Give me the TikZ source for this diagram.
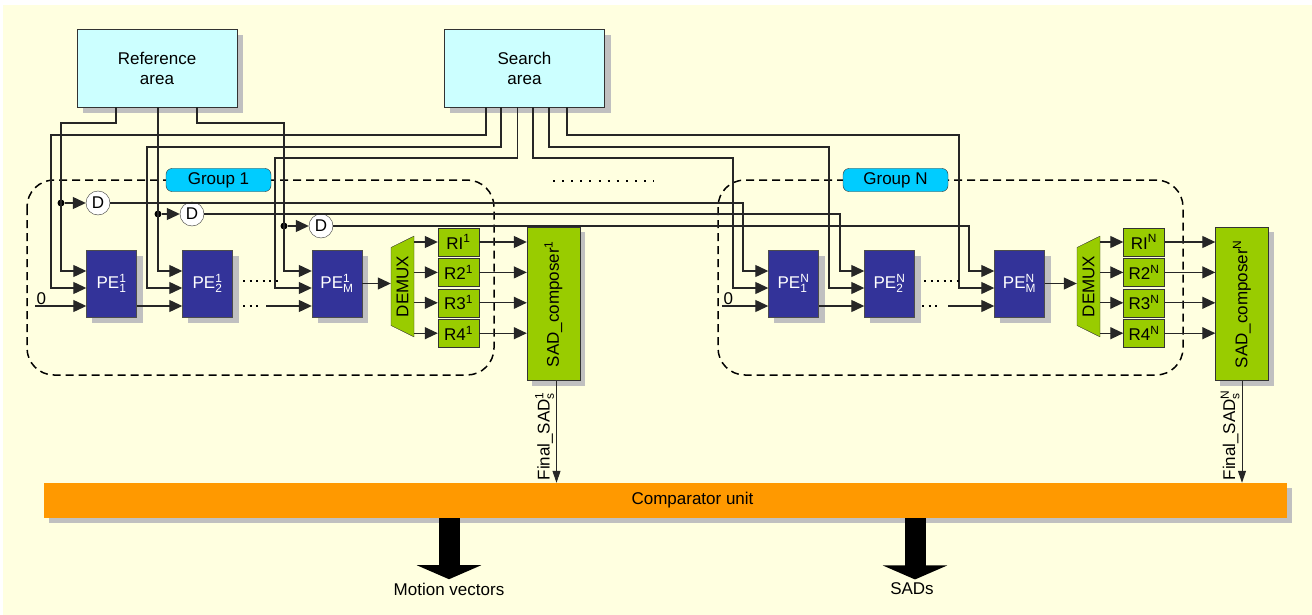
\documentclass[tikz,border=0pt]{standalone}
\usepackage{graphicx}
\usepackage{fontspec}
\setmainfont{Liberation Sans}
\usepackage{tikz}
\usetikzlibrary{shapes.geometric, arrows.meta, positioning}

\definecolor{bgyellow}{RGB}{255,255,224}
\definecolor{areacyan}{RGB}{204,255,255}
\definecolor{peblue}{RGB}{51,51,153}
\definecolor{regreen}{RGB}{153,204,0}
\definecolor{grpcyan}{RGB}{0,204,255}
\definecolor{cmporange}{RGB}{255,153,0}
\definecolor{shadowgray}{RGB}{192,192,192}

\newcommand{\dfont}{\fontsize{17}{20}\selectfont}

\pgfdeclarelayer{behind}
\pgfsetlayers{behind,main}

\begin{document}
\begin{tikzpicture}[
    x=1pt, y=-1pt,
    font=\dfont,
    area/.style={rectangle, draw=black!80, fill=areacyan, minimum width=160pt, minimum height=78pt, align=center},
    pe/.style={rectangle, draw=black!70, fill=peblue, text=white, minimum width=50pt, minimum height=67pt, inner sep=0pt},
    demux/.style={trapezium, trapezium stretches=true, draw=black!80, fill=regreen, rotate=90, minimum width=101pt, minimum height=23pt, trapezium left angle=53, trapezium right angle=53, inner sep=0pt},
    reg/.style={rectangle, draw=black!80, fill=regreen, minimum width=41pt, minimum height=28pt, inner sep=0pt},
    composer/.style={rectangle, draw=black!80, fill=regreen, minimum width=53pt, minimum height=153pt, inner sep=0pt},
    delay/.style={circle, draw=black!80, fill=white, minimum size=24pt, inner sep=0pt},
    joint/.style={circle, fill=black, minimum size=7pt, inner sep=0pt},
    group/.style={draw=black, line width=1.5pt, dash pattern=on 8pt off 5pt, rounded corners=27pt},
    grouplabel/.style={rectangle, rounded corners=6pt, draw=black!80, fill=grpcyan, minimum width=105pt, minimum height=23pt, inner sep=0pt},
    cmpbox/.style={rectangle, fill=cmporange, minimum width=1243pt, minimum height=35pt},
    boxshadow/.style={fill=shadowgray},
    wire/.style={draw=black!85, line width=1.2pt},
    arrow/.style={wire, -{Triangle[length=13pt, width=12pt]}},
    outarrow/.style={wire, line width=1pt, -{Triangle[length=12pt, width=8pt]}},
    bigarrow/.style={line width=21pt, -{Triangle[length=14pt, width=64pt]}},
    dotrow/.style={line width=2pt, dash pattern=on 2pt off #1},
    dotrow/.default=4.5pt
]

% Background
\begin{pgfonlayer}{behind}
\fill[bgyellow] (3,5) rectangle (1312,615);
\end{pgfonlayer}
\useasboundingbox (0,0) rectangle (1312,615);

% Groups
\draw[group] (27,180) rectangle (494,375);
\draw[group] (718,180) rectangle (1183,375);
\node[grouplabel] (grp1) at (218.5,180) {Group 1};
\node[grouplabel] (grpN) at (895.5,180) {Group N};
\draw[dotrow=7.1pt] (553,181) -- (654,181);

% Memories
\node[area] (ref) at (157,68) {Reference\\area};
\node[area] (search) at (524.5,68) {Search\\area};

% Group 1 - PE row
\node[pe] (pe11) at (111.5,283.5) {PE$_{\mathrm{1}}^{\mathrm{1}}$};
\node[pe] (pe21) at (207.5,283.5) {PE$_{\mathrm{2}}^{\mathrm{1}}$};
\node[pe] (pem1) at (337,283.5) {PE$_{\mathrm{M}}^{\mathrm{1}}$};
\node[demux] (dmx1) at (402.5,286.5) {DEMUX};
\node[reg] (r11) at (458.5,242) {RI$^{\mathrm{1}}$};
\node[reg, below=2pt of r11] (r21) {R2$^{\mathrm{1}}$};
\node[reg, below=2pt of r21] (r31) {R3$^{\mathrm{1}}$};
\node[reg, below=2pt of r31] (r41) {R4$^{\mathrm{1}}$};
\node[composer] (sad1) at (553.5,304) {\rotatebox{90}{SAD\_composer$^{\mathrm{1}}$}};

% Group N - PE row
\node[pe] (pe1N) at (793.5,283.5) {PE$_{\mathrm{1}}^{\mathrm{N}}$};
\node[pe] (pe2N) at (889.5,283.5) {PE$_{\mathrm{2}}^{\mathrm{N}}$};
\node[pe] (pemN) at (1019.5,283.5) {PE$_{\mathrm{M}}^{\mathrm{N}}$};
\node[demux] (dmxN) at (1088.5,286.5) {DEMUX};
\node[reg] (r1N) at (1144,242) {RI$^{\mathrm{N}}$};
\node[reg, below=2pt of r1N] (r2N) {R2$^{\mathrm{N}}$};
\node[reg, below=2pt of r2N] (r3N) {R3$^{\mathrm{N}}$};
\node[reg, below=2pt of r3N] (r4N) {R4$^{\mathrm{N}}$};
\node[composer] (sadN) at (1242,304) {\rotatebox{90}{SAD\_composer$^{\mathrm{N}}$}};

% Delays
\node[joint] (j1) at (61,203) {};
\node[joint] (j2) at (158,214) {};
\node[joint] (j3) at (284,226) {};
\node[delay] (d1) at (98,203) {D};
\node[delay] (d2) at (192,214) {D};
\node[delay] (d3) at (321,226) {D};

% Comparator and outputs
\node[cmpbox] (cmp) at (665.5,500.5) {};
\node (cmptxt) at (692.5,500.5) {Comparator unit};
\node (mv) at (449,589) {Motion vectors};
\node (sads) at (912,589) {SADs};

% Shadows
\begin{pgfonlayer}{behind}
\foreach \b in {ref,search,pe11,pe21,pem1,pe1N,pe2N,pemN}
  \fill[boxshadow] ([shift={(6pt,-6pt)}]\b.south west) rectangle ([shift={(6pt,-6pt)}]\b.north east);
\foreach \b in {sad1,sadN,cmp}
  \fill[boxshadow] ([shift={(5pt,-5pt)}]\b.south west) rectangle ([shift={(5pt,-5pt)}]\b.north east);
\end{pgfonlayer}

% Reference area wires
\draw[arrow] ([xshift=-41pt]ref.south) |- (61,123) |- ([yshift=12.5pt]pe11.west);
\draw[arrow] ([xshift=1pt]ref.south) |- ([yshift=12.5pt]pe21.west);
\draw[arrow] ([xshift=40pt]ref.south) |- (284,123) |- ([yshift=12.5pt]pem1.west);
\draw[arrow] (j1) -- (d1);
\draw[arrow] (j2) -- (d2);
\draw[arrow] (j3) -- (d3);
\draw[arrow] (d1.east) -- (743,203) |- ([yshift=12.5pt]pe1N.west);
\draw[arrow] (d2.east) -- (840,214) |- ([yshift=12.5pt]pe2N.west);
\draw[arrow] (d3.east) -- (969,226) |- ([yshift=12.5pt]pemN.west);

% Search area wires
\draw[arrow] ([xshift=-38.5pt]search.south) |- (51,135) |- ([yshift=-4.5pt]pe11.west);
\draw[arrow] ([xshift=-23.5pt]search.south) |- (147,147) |- ([yshift=-4.5pt]pe21.west);
\draw[arrow] ([xshift=-7pt]search.south) |- (275,158) |- ([yshift=-4.5pt]pem1.west);
\draw[arrow] ([xshift=8.5pt]search.south) |- (733,158) |- ([yshift=-4.5pt]pe1N.west);
\draw[arrow] ([xshift=24.5pt]search.south) |- (829,147) |- ([yshift=-4.5pt]pe2N.west);
\draw[arrow] ([xshift=42.5pt]search.south) |- (959,135) |- ([yshift=-4.5pt]pemN.west);

% Group 1 - chain
\coordinate (zero1) at (35,306);
\coordinate (cont1) at (266,306);
\draw[arrow] (zero1) node[above right, inner sep=1pt] (zl1) {0} -- ([yshift=-22.5pt]pe11.west);
\draw[arrow] ([yshift=-22.5pt]pe11.east) -- ([yshift=-22.5pt]pe21.west);
\draw[dotrow] (243,306) -- (258,306);
\draw[dotrow] (243,281) -- (278,281);
\draw[arrow] (cont1) -- ([yshift=-22.5pt]pem1.west);
\draw[arrow] (pem1.east) -- (pem1.east -| dmx1.north);
\draw[arrow] (r11.west -| dmx1.south) -- (r11);
\draw[arrow] (r21.west -| dmx1.south) -- (r21);
\draw[arrow] (r31.west -| dmx1.south) -- (r31);
\draw[arrow] (r41.west -| dmx1.south) -- (r41);
\draw[arrow] (r11.east) -- (r11.east -| sad1.west);
\draw[arrow] (r21.east) -- (r21.east -| sad1.west);
\draw[arrow] (r31.east) -- (r31.east -| sad1.west);
\draw[arrow] (r41.east) -- (r41.east -| sad1.west);

% Group N - chain
\coordinate (zeroN) at (722,306);
\coordinate (contN) at (948,306);
\draw[arrow] (zeroN) node[above right, inner sep=1pt] (zlN) {0} -- ([yshift=-22.5pt]pe1N.west);
\draw[arrow] ([yshift=-22.5pt]pe1N.east) -- ([yshift=-22.5pt]pe2N.west);
\draw[dotrow] (922,306) -- (937,306);
\draw[dotrow] (924,281) -- (959,281);
\draw[arrow] (contN) -- ([yshift=-22.5pt]pemN.west);
\draw[arrow] (pemN.east) -- (pemN.east -| dmxN.north);
\draw[arrow] (r1N.west -| dmxN.south) -- (r1N);
\draw[arrow] (r2N.west -| dmxN.south) -- (r2N);
\draw[arrow] (r3N.west -| dmxN.south) -- (r3N);
\draw[arrow] (r4N.west -| dmxN.south) -- (r4N);
\draw[arrow] (r1N.east) -- (r1N.east -| sadN.west);
\draw[arrow] (r2N.east) -- (r2N.east -| sadN.west);
\draw[arrow] (r3N.east) -- (r3N.east -| sadN.west);
\draw[arrow] (r4N.east) -- (r4N.east -| sadN.west);

% Final SADs to comparator
\draw[outarrow] ([xshift=3pt]sad1.south) -- ([xshift=3pt]sad1.south |- cmp.north)
    node[pos=1, rotate=90, anchor=south west, inner sep=2pt] (fs1) {Final\_SAD$_{\mathrm{s}}^{\mathrm{1}}$};
\draw[outarrow] (sadN.south) -- (sadN.south |- cmp.north)
    node[pos=1, rotate=90, anchor=south west, inner sep=2pt] (fsN) {Final\_SAD$_{\mathrm{s}}^{\mathrm{N}}$};

% Outputs
\draw[bigarrow] (cmp.south -| mv.north) -- (mv.north);
\draw[bigarrow] ([xshift=3pt]cmp.south -| sads.north) -- ([xshift=3pt]sads.north);

\end{tikzpicture}
\end{document}
